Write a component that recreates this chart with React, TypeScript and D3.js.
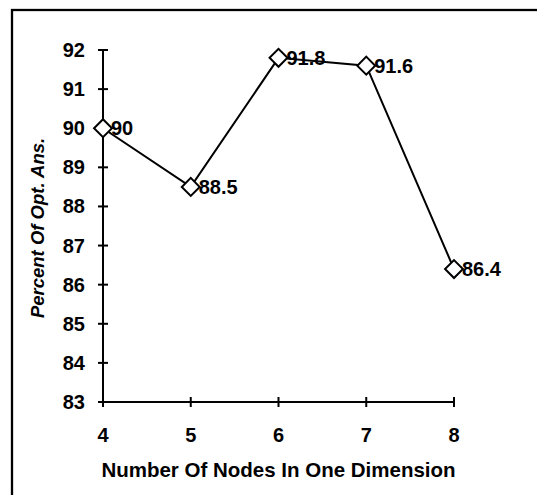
import React, { useEffect, useRef } from 'react';
import * as d3 from 'd3';

const nodes = [4, 5, 6, 7, 8];
const percent = [90, 88.5, 91.8, 91.6, 86.4];
const yTicks = [83, 84, 85, 86, 87, 88, 89, 90, 91, 92];

const App = () => {
  const ref = useRef<SVGSVGElement>(null);

  useEffect(() => {
    const width = 537;
    const height = 495;
    const margin = { top: 50, right: 83, bottom: 93, left: 103 };
    const svg = d3.select(ref.current);
    svg.selectAll('*').remove();

    // outer frame, runs off the right and bottom edges
    svg
      .append('rect')
      .attr('x', 12)
      .attr('y', 10)
      .attr('width', 560)
      .attr('height', 520)
      .attr('fill', 'white')
      .attr('stroke', 'black')
      .attr('stroke-width', 2.3);

    const x = d3
      .scaleLinear()
      .domain([4, 8])
      .range([margin.left, width - margin.right]);
    const y = d3
      .scaleLinear()
      .domain([83, 92])
      .range([height - margin.bottom, margin.top]);

    const font = 'Arial, "Liberation Sans", sans-serif';

    const yAxis = svg.append('g').attr('transform', `translate(${margin.left},0)`);
    yAxis
      .append('line')
      .attr('y1', y(83))
      .attr('y2', y(92))
      .attr('stroke', 'black')
      .attr('stroke-width', 2);
    yAxis
      .selectAll('line.tick')
      .data(yTicks)
      .join('line')
      .attr('class', 'tick')
      .attr('x1', -5)
      .attr('x2', 5)
      .attr('y1', (d) => y(d))
      .attr('y2', (d) => y(d))
      .attr('stroke', 'black')
      .attr('stroke-width', 2);
    yAxis
      .selectAll('text')
      .data(yTicks)
      .join('text')
      .attr('x', -18)
      .attr('y', (d) => y(d))
      .attr('dy', '0.35em')
      .attr('text-anchor', 'end')
      .style('font', `bold 20px ${font}`)
      .text((d) => d);

    const xAxis = svg
      .append('g')
      .attr('transform', `translate(0,${height - margin.bottom})`);
    xAxis
      .append('line')
      .attr('x1', x(4))
      .attr('x2', x(8))
      .attr('stroke', 'black')
      .attr('stroke-width', 2);
    xAxis
      .selectAll('line.tick')
      .data(nodes)
      .join('line')
      .attr('class', 'tick')
      .attr('x1', (d) => x(d))
      .attr('x2', (d) => x(d))
      .attr('y1', -5)
      .attr('y2', 5)
      .attr('stroke', 'black')
      .attr('stroke-width', 2);
    xAxis
      .selectAll('text')
      .data(nodes)
      .join('text')
      .attr('x', (d) => x(d))
      .attr('y', 33)
      .attr('dy', '0.35em')
      .attr('text-anchor', 'middle')
      .style('font', `bold 20px ${font}`)
      .text((d) => d);

    // value labels sit under the line
    svg
      .append('g')
      .selectAll('text')
      .data(percent)
      .join('text')
      .attr('x', (d, i) => x(nodes[i]) + 8)
      .attr('y', (d) => y(d))
      .attr('dy', '0.35em')
      .style('font', `bold 20px ${font}`)
      .text((d) => d);

    const line = d3
      .line<number>()
      .x((d, i) => x(nodes[i]))
      .y((d) => y(d));

    svg
      .append('path')
      .datum(percent)
      .attr('d', line)
      .attr('fill', 'none')
      .attr('stroke', 'black')
      .attr('stroke-width', 2);

    const diamond = d3.symbol().type(d3.symbolSquare).size(160);
    svg
      .append('g')
      .selectAll('path')
      .data(percent)
      .join('path')
      .attr('d', diamond)
      .attr(
        'transform',
        (d, i) => `translate(${x(nodes[i])},${y(d)}) rotate(45)`
      )
      .attr('fill', 'white')
      .attr('stroke', 'black')
      .attr('stroke-width', 2);

    svg
      .append('text')
      .attr('x', (x(4) + x(8)) / 2)
      .attr('y', 470)
      .attr('dy', '0.35em')
      .attr('text-anchor', 'middle')
      .style('font', `bold 20.5px ${font}`)
      .text('Number Of Nodes In One Dimension');

    svg
      .append('text')
      .attr('transform', `translate(38,228) rotate(-90)`)
      .attr('dy', '0.35em')
      .attr('text-anchor', 'middle')
      .style('font', `italic bold 18.5px ${font}`)
      .text('Percent Of Opt. Ans.');
  }, []);

  return (
    <svg
      ref={ref}
      width={537}
      height={495}
      style={{ position: 'absolute', left: 0, top: 0 }}
    />
  );
};

export default App;
